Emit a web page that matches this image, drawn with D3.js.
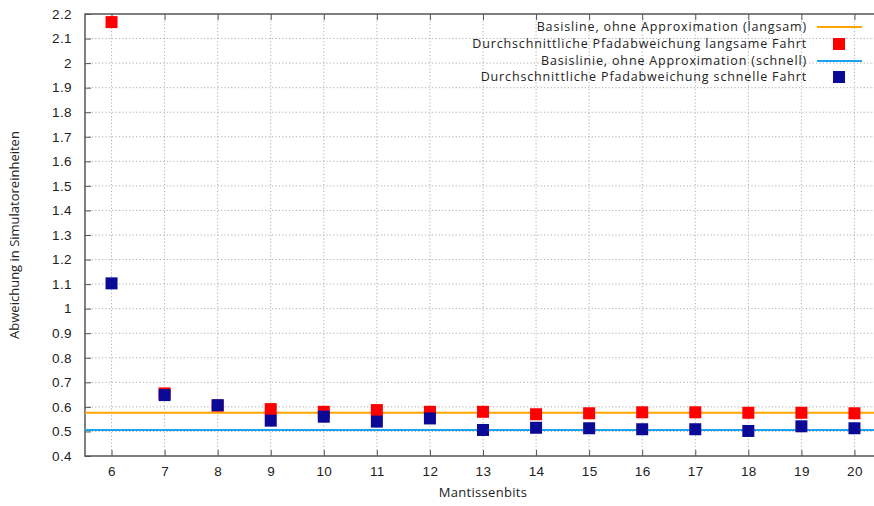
<!DOCTYPE html>
<html>
<head>
<meta charset="utf-8">
<script src="https://cdn.jsdelivr.net/npm/d3@7"></script>
<style>
  body { margin: 0; background: #fff; }
  svg { display: block; font-family: "Open Sans", sans-serif; }
  .grid line { stroke: #9a9a9a; stroke-width: 0.8; stroke-dasharray: 1.2 2.2; }
</style>
</head>
<body>
<div id="chart"></div>
<script>
const mantissaBits = [6, 7, 8, 9, 10, 11, 12, 13, 14, 15, 16, 17, 18, 19, 20];
const slowAvg = [2.167, 0.655, 0.605, 0.591, 0.58, 0.587, 0.58, 0.58, 0.57, 0.574, 0.578, 0.578, 0.576, 0.576, 0.574];
const fastAvg = [1.103, 0.648, 0.607, 0.544, 0.56, 0.54, 0.553, 0.506, 0.515, 0.513, 0.509, 0.509, 0.502, 0.521, 0.513];
const slowBaseline = 0.576;
const fastBaseline = 0.506;
const yTicks = [0.4, 0.5, 0.6, 0.7, 0.8, 0.9, 1, 1.1, 1.2, 1.3, 1.4, 1.5, 1.6, 1.7, 1.8, 1.9, 2, 2.1, 2.2];
const legendLabels = [
    'Basisline, ohne Approximation (langsam)',
    'Durchschnittliche Pfadabweichung langsame Fahrt',
    'Basislinie, ohne Approximation (schnell)',
    'Durchschnittliche Pfadabweichung schnelle Fahrt'
];

const colors = {
    slowLine: '#FFA500',
    slowPoint: '#FF0000',
    fastLine: '#1AA3EE',
    fastPoint: '#0A0A96',
    axis: '#555'
};

const width = 874, height = 506;
const plot = { left: 85, right: 881, top: 14, bottom: 456 };

const svg = d3.select('#chart').append('svg')
    .attr('width', width)
    .attr('height', height);

const x = d3.scaleLinear().domain([5.5, 20.5]).range([plot.left, plot.right]);
const y = d3.scaleLinear().domain([0.4, 2.2]).range([plot.bottom, plot.top]);

// grid
const grid = svg.append('g').attr('class', 'grid');
grid.selectAll('.gx')
    .data(mantissaBits)
    .join('line')
    .attr('x1', d => x(d)).attr('x2', d => x(d))
    .attr('y1', plot.top).attr('y2', plot.bottom);
grid.selectAll('.gy')
    .data(yTicks.slice(1, -1))
    .join('line')
    .attr('class', 'gy')
    .attr('x1', plot.left).attr('x2', plot.right)
    .attr('y1', d => y(d)).attr('y2', d => y(d));

// axes
const yAxis = d3.axisLeft(y).tickValues(yTicks).tickSize(-6).tickPadding(13)
    .tickFormat(d => d3.format('')(+d.toFixed(1)));
const xAxis = d3.axisBottom(x).tickValues(mantissaBits).tickSize(-6).tickPadding(10);
const xTop = d3.axisTop(x).tickValues(mantissaBits).tickSize(-6).tickFormat('');

function styleAxis(g) {
    g.select('.domain').remove();
    g.selectAll('.tick line').attr('stroke', colors.axis).attr('stroke-width', 1);
    g.selectAll('.tick text').attr('fill', '#222')
        .style('font-size', '13.5px').style('letter-spacing', '0.4px');
}

svg.append('g').attr('transform', `translate(${plot.left},0)`).call(yAxis).call(styleAxis);
svg.append('g').attr('transform', `translate(0,${plot.bottom})`).call(xAxis).call(styleAxis);
svg.append('g').attr('transform', `translate(0,${plot.top})`).call(xTop).call(styleAxis);

svg.append('rect')
    .attr('x', plot.left).attr('y', plot.top)
    .attr('width', plot.right - plot.left).attr('height', plot.bottom - plot.top)
    .attr('fill', 'none').attr('stroke', colors.axis).attr('stroke-width', 1.5);

// series
const sq = 12;
function baseline(value, color) {
    svg.append('line')
        .attr('x1', plot.left).attr('x2', plot.right)
        .attr('y1', y(value)).attr('y2', y(value))
        .attr('stroke', color).attr('stroke-width', 2);
}
function points(values, color) {
    svg.append('g').selectAll('rect')
        .data(values.map((v, i) => [mantissaBits[i], v]))
        .join('rect')
        .attr('x', d => x(d[0]) - sq / 2)
        .attr('y', d => y(d[1]) - sq / 2)
        .attr('width', sq).attr('height', sq)
        .attr('fill', color);
}
baseline(slowBaseline, colors.slowLine);
points(slowAvg, colors.slowPoint);
baseline(fastBaseline, colors.fastLine);
points(fastAvg, colors.fastPoint);

// legend
const legend = svg.append('g');
const legendY = [27, 44, 61, 77];
const kinds = ['line', 'rect', 'line', 'rect'];
const kindColors = [colors.slowLine, colors.slowPoint, colors.fastLine, colors.fastPoint];
legendLabels.forEach((label, i) => {
    legend.append('text')
        .attr('x', 807).attr('y', legendY[i])
        .attr('dy', '0.35em')
        .attr('text-anchor', 'end')
        .attr('fill', '#222')
        .style('font-size', '12.5px')
        .style('letter-spacing', '0.85px')
        .text(label);
    if (kinds[i] === 'line') {
        legend.append('line')
            .attr('x1', 817).attr('x2', 862)
            .attr('y1', legendY[i]).attr('y2', legendY[i])
            .attr('stroke', kindColors[i]).attr('stroke-width', 2);
    } else {
        legend.append('rect')
            .attr('x', 839 - sq / 2).attr('y', legendY[i] - sq / 2)
            .attr('width', sq).attr('height', sq)
            .attr('fill', kindColors[i]);
    }
});

// axis titles
svg.append('text')
    .attr('x', (plot.left + plot.right) / 2).attr('y', 497)
    .attr('text-anchor', 'middle')
    .attr('fill', '#222')
    .style('font-size', '13px')
    .style('letter-spacing', '0.3px')
    .text('Mantissenbits');

svg.append('text')
    .attr('transform', `translate(19,${(plot.top + plot.bottom) / 2}) rotate(-90)`)
    .attr('text-anchor', 'middle')
    .attr('fill', '#222')
    .style('font-size', '13px')
    .text('Abweichung in Simulatoreinheiten');
</script>
</body>
</html>
